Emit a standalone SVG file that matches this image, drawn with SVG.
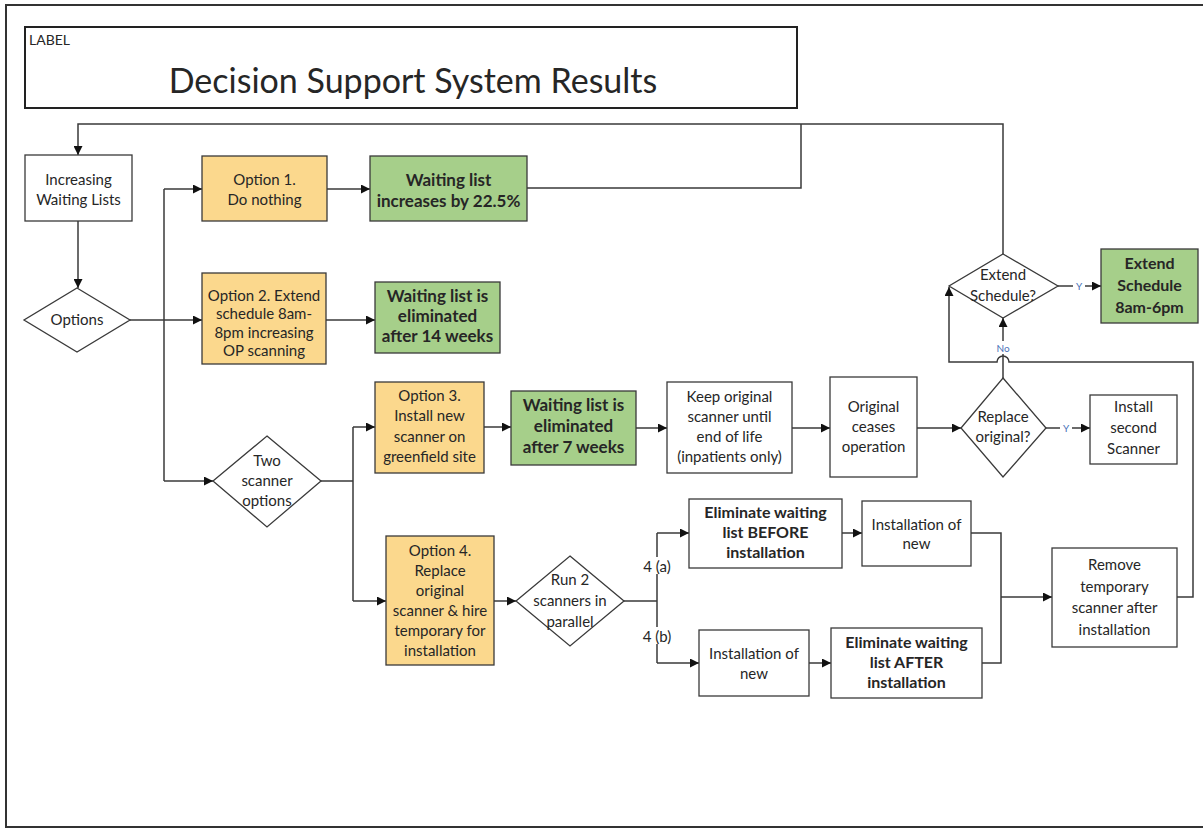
<svg xmlns="http://www.w3.org/2000/svg" width="1203" height="829" viewBox="0 0 1203 829">
  <style>
    .box { stroke: #3a3a3a; stroke-width: 1.3; }
    .plain { fill: #ffffff; }
    .opt { fill: #fbd88d; }
    .res { fill: #a6cf8a; }
    .dec { fill: #ffffff; stroke: #3a3a3a; stroke-width: 1.3; }
    text { font-family: Lato, "Liberation Sans", sans-serif; font-size: 15px; fill: #262626; text-anchor: middle; }
    .b { font-weight: bold; font-size: 16px; }
    .bg { font-weight: bold; font-size: 17px; }
    .conn { fill: none; stroke: #3a3a3a; stroke-width: 1.5; }
    .arr { marker-end: url(#ah); }
    .yn { font-size: 10px; fill: #4a72b8; }
    .lbl { font-size: 15px; }
  </style>
  <defs>
    <marker id="ah" viewBox="0 0 10 10" refX="10" refY="5" markerWidth="11" markerHeight="9" markerUnits="userSpaceOnUse" orient="auto">
      <path d="M0,0 L10,5 L0,10 z" fill="#111"/>
    </marker>
  </defs>

  <rect width="1203" height="829" fill="#ffffff"/>
  <!-- page frame -->
  <rect x="6" y="5" width="1205" height="822" fill="none" stroke="#333" stroke-width="2"/>

  <!-- title block -->
  <g id="title">
    <rect x="25" y="27" width="772" height="81" fill="#fff" stroke="#222" stroke-width="2"/>
    <text x="29" y="45" style="text-anchor:start;font-size:14px">LABEL</text>
    <text x="413" y="93" style="font-size:34px">Decision Support System Results</text>
  </g>

  <!-- connectors -->
  <g id="connectors">
    <path class="conn arr" d="M78,221 V288"/>
    <path class="conn arr" d="M130,320 H202"/>
    <path class="conn" d="M164,189 V481"/>
    <path class="conn arr" d="M164,189 H202"/>
    <path class="conn arr" d="M164,481 H213"/>
    <path class="conn arr" d="M327,189 H370"/>
    <path class="conn arr" d="M326,320 H375"/>
    <path class="conn" d="M527,188 H801 V124"/>
    <path class="conn arr" d="M1003,254 V124 H78 V155"/>
    <path class="conn" d="M321,481 H353 M353,427 V601"/>
    <path class="conn arr" d="M353,427 H375"/>
    <path class="conn arr" d="M353,601 H386"/>
    <path class="conn arr" d="M484,427 H511"/>
    <path class="conn arr" d="M636,428 H667"/>
    <path class="conn arr" d="M792,428 H830"/>
    <path class="conn arr" d="M917,428 H961"/>
    <path class="conn arr" d="M1046,428 H1090"/>
    <path class="conn arr" d="M1003,378 V318"/>
    <path class="conn arr" d="M1177,597 H1193 V362 H1009 A6,6 0 0 0 997,362 H949 V287"/>
    <path class="conn arr" d="M1058,286 H1101"/>
    <path class="conn arr" d="M494,601 H516"/>
    <path class="conn" d="M624,601 H657 M657,533 V663"/>
    <path class="conn arr" d="M657,533 H689"/>
    <path class="conn arr" d="M657,663 H699"/>
    <path class="conn arr" d="M842,533 H862"/>
    <path class="conn arr" d="M809,663 H831"/>
    <path class="conn" d="M971,533 H1001 V663 H982"/>
    <path class="conn arr" d="M1001,597 H1052"/>
    <!-- branch labels -->
    <rect x="1073" y="280" width="12" height="12" fill="#fff"/>
    <text class="yn" x="1079" y="290">Y</text>
    <rect x="1060" y="422" width="12" height="12" fill="#fff"/>
    <text class="yn" x="1066" y="432">Y</text>
    <rect x="993" y="341" width="20" height="13" fill="#fff"/>
    <text class="yn" x="1003" y="352">No</text>
    <rect x="641" y="557" width="33" height="17" fill="#fff"/>
    <text class="lbl" x="657" y="572">4 (a)</text>
    <rect x="641" y="627" width="33" height="17" fill="#fff"/>
    <text class="lbl" x="657" y="642">4 (b)</text>
  </g>

  <g id="increasing-waiting-lists">
    <rect class="box plain" x="25" y="155" width="107" height="66"/>
    <text x="78.5" y="185">Increasing</text>
    <text x="78.5" y="205">Waiting Lists</text>
  </g>

  <g id="options">
    <polygon class="dec" points="77,288 130,320 77,352 24,320"/>
    <text x="77" y="325">Options</text>
  </g>

  <g id="option-1">
    <rect class="box opt" x="202" y="156" width="125" height="65"/>
    <text x="264.5" y="185">Option 1.</text>
    <text x="264.5" y="205">Do nothing</text>
  </g>

  <g id="result-1">
    <rect class="box res" x="370" y="156" width="157" height="65"/>
    <text class="bg" x="448.5" y="186">Waiting list</text>
    <text class="bg" x="448.5" y="207">increases by 22.5%</text>
  </g>

  <g id="option-2">
    <rect class="box opt" x="202" y="273" width="124" height="91"/>
    <text x="264" y="301">Option 2. Extend</text>
    <text x="264" y="319">schedule 8am-</text>
    <text x="264" y="338">8pm increasing</text>
    <text x="264" y="356">OP scanning</text>
  </g>

  <g id="result-2">
    <rect class="box res" x="375" y="282" width="125" height="71"/>
    <text class="bg" x="437.5" y="302">Waiting list is</text>
    <text class="bg" x="437.5" y="322">eliminated</text>
    <text class="bg" x="437.5" y="342">after 14 weeks</text>
  </g>

  <g id="two-scanner-options">
    <polygon class="dec" points="267,436 321,481 267,527 213,481"/>
    <text x="267" y="466">Two</text>
    <text x="267" y="486">scanner</text>
    <text x="267" y="506">options</text>
  </g>

  <g id="option-3">
    <rect class="box opt" x="375" y="382" width="109" height="91"/>
    <text x="429.5" y="401">Option 3.</text>
    <text x="429.5" y="421">Install new</text>
    <text x="429.5" y="442">scanner on</text>
    <text x="429.5" y="462">greenfield site</text>
  </g>

  <g id="result-3">
    <rect class="box res" x="511" y="391" width="125" height="74"/>
    <text class="bg" x="573.5" y="411">Waiting list is</text>
    <text class="bg" x="573.5" y="432">eliminated</text>
    <text class="bg" x="573.5" y="453">after 7 weeks</text>
  </g>

  <g id="keep-original">
    <rect class="box plain" x="667" y="382" width="125" height="91"/>
    <text x="729.5" y="402">Keep original</text>
    <text x="729.5" y="422">scanner until</text>
    <text x="729.5" y="442">end of life</text>
    <text x="729.5" y="462">(inpatients only)</text>
  </g>

  <g id="original-ceases">
    <rect class="box plain" x="830" y="377" width="87" height="100"/>
    <text x="873.5" y="412">Original</text>
    <text x="873.5" y="432">ceases</text>
    <text x="873.5" y="452">operation</text>
  </g>

  <g id="replace-original">
    <polygon class="dec" points="1003,378 1046,428 1003,477 961,428"/>
    <text x="1003" y="422">Replace</text>
    <text x="1003" y="442">original?</text>
  </g>

  <g id="install-second">
    <rect class="box plain" x="1090" y="395" width="87" height="69"/>
    <text x="1133.5" y="412">Install</text>
    <text x="1133.5" y="433">second</text>
    <text x="1133.5" y="454">Scanner</text>
  </g>

  <g id="extend-schedule-q">
    <polygon class="dec" points="1003,254 1058,286 1003,318 949,286"/>
    <text x="1003" y="280">Extend</text>
    <text x="1003" y="301">Schedule?</text>
  </g>

  <g id="extend-schedule">
    <rect class="box res" x="1101" y="249" width="97" height="74"/>
    <text class="b" x="1149.5" y="269">Extend</text>
    <text class="b" x="1149.5" y="291">Schedule</text>
    <text class="b" x="1149.5" y="313">8am-6pm</text>
  </g>

  <g id="option-4">
    <rect class="box opt" x="386" y="536" width="108" height="129"/>
    <text x="440" y="556">Option 4.</text>
    <text x="440" y="576">Replace</text>
    <text x="440" y="596">original</text>
    <text x="440" y="616">scanner &amp; hire</text>
    <text x="440" y="636">temporary for</text>
    <text x="440" y="656">installation</text>
  </g>

  <g id="run-parallel">
    <polygon class="dec" points="570,556 624,601 570,646 516,601"/>
    <text x="570" y="585">Run 2</text>
    <text x="570" y="606">scanners in</text>
    <text x="570" y="627">parallel</text>
  </g>

  <g id="eliminate-before">
    <rect class="box plain" x="689" y="499" width="153" height="69"/>
    <text class="b" x="765.5" y="518">Eliminate waiting</text>
    <text class="b" x="765.5" y="538">list BEFORE</text>
    <text class="b" x="765.5" y="558">installation</text>
  </g>

  <g id="installation-a">
    <rect class="box plain" x="862" y="501" width="109" height="65"/>
    <text x="916.5" y="530">Installation of</text>
    <text x="916.5" y="549">new</text>
  </g>

  <g id="remove-temporary">
    <rect class="box plain" x="1052" y="548" width="125" height="99"/>
    <text x="1114.5" y="570">Remove</text>
    <text x="1114.5" y="592">temporary</text>
    <text x="1114.5" y="613">scanner after</text>
    <text x="1114.5" y="635">installation</text>
  </g>

  <g id="installation-b">
    <rect class="box plain" x="699" y="630" width="110" height="66"/>
    <text x="754" y="659">Installation of</text>
    <text x="754" y="679">new</text>
  </g>

  <g id="eliminate-after">
    <rect class="box plain" x="831" y="628" width="151" height="70"/>
    <text class="b" x="906.5" y="648">Eliminate waiting</text>
    <text class="b" x="906.5" y="668">list  AFTER</text>
    <text class="b" x="906.5" y="688">installation</text>
  </g>
</svg>
